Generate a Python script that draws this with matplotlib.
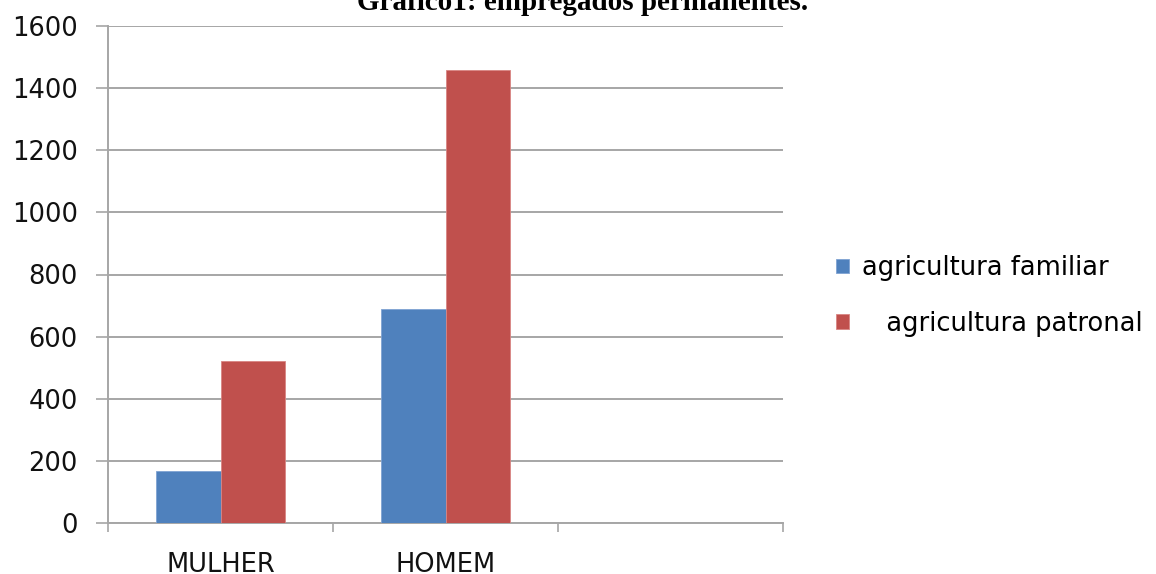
import matplotlib
matplotlib.use("Agg")
import matplotlib.pyplot as plt
import numpy as np

# Permanent employees by sex and type of agriculture
categories = ["MULHER", "HOMEM", ""]
familiar = [167, 688, 0]
patronal = [521, 1457, 0]
series_labels = ["agricultura familiar", "   agricultura patronal"]
y_ticks = [0, 200, 400, 600, 800, 1000, 1200, 1400, 1600]
title = "Gráfico1: empregados permanentes."

BLUE = "#4F81BD"
RED = "#C0504D"
GRID = "#A6A6A6"
FONT = "DejaVu Sans"
FS = 18.5

fig = plt.figure(figsize=(11.56, 5.74), dpi=100)
W, H = 1156, 574
ax = fig.add_axes([108 / W, 1 - 523 / H, (783 - 108) / W, (523 - 26) / H])

n = len(categories)
x = np.arange(n) + 0.5
width = 0.285
b1 = ax.bar(x[:2] - width / 2, familiar[:2], width, color=BLUE,
            edgecolor="#7FA3D3", linewidth=0.6, label=series_labels[0], zorder=3)
b2 = ax.bar(x[:2] + width / 2, patronal[:2], width, color=RED,
            edgecolor="#D88583", linewidth=0.6, label=series_labels[1], zorder=3)

ax.set_xlim(0, n)
ax.set_ylim(0, 1600)
ax.set_yticks(y_ticks)
ax.set_yticklabels([str(v) for v in y_ticks], fontsize=FS, family=FONT, color="#111111")
ax.yaxis.grid(True, color=GRID, linewidth=1.4, zorder=0)
ax.tick_params(axis="y", length=8.6, width=1.2, color=GRID, pad=13)

# Category boundaries as major ticks, names as minor tick labels
ax.set_xticks(np.arange(n + 1))
ax.set_xticklabels([])
ax.set_xticks(x, minor=True)
ax.set_xticklabels(categories, minor=True, fontsize=FS, family=FONT, color="#111111")
ax.tick_params(axis="x", which="major", length=6.5, width=1.2, color=GRID)
ax.tick_params(axis="x", which="minor", length=0, pad=21)

for side in ["top", "right"]:
    ax.spines[side].set_visible(False)
for side in ["left", "bottom"]:
    ax.spines[side].set_color(GRID)
    ax.spines[side].set_linewidth(1.4)

leg = ax.legend(handles=[b1, b2], loc="center left", bbox_to_anchor=(836 / W, 1 - 296 / H),
                bbox_transform=fig.transFigure, frameon=False,
                prop={"family": FONT, "size": FS}, handlelength=0.5, handleheight=0.5,
                handletextpad=0.5, labelspacing=1.15, borderpad=0, borderaxespad=0)

fig.text(0.504, 1 - 10 / H, title, ha="center", va="baseline",
         family="Liberation Serif", fontweight="bold", fontsize=21)

fig.savefig("out.png", dpi=100)
